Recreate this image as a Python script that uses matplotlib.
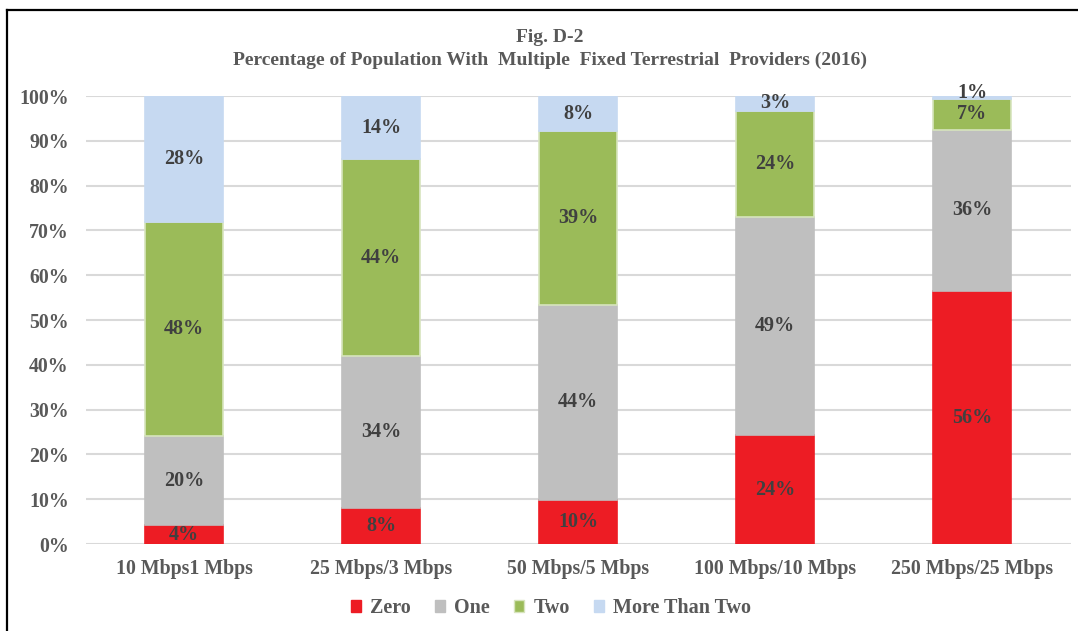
import matplotlib.pyplot as plt
from matplotlib.lines import Line2D
from matplotlib.patches import Patch
import numpy as np

plt.rcParams['font.family'] = ['Liberation Serif', 'DejaVu Serif']
plt.rcParams['font.weight'] = 'bold'

categories = ['10 Mbps1 Mbps', '25 Mbps/3 Mbps', '50 Mbps/5 Mbps',
              '100 Mbps/10 Mbps', '250 Mbps/25 Mbps']
series_names = ['Zero', 'One', 'Two', 'More Than Two']
zero = [4.2, 8.0, 9.8, 24.3, 56.4]
one = [19.9, 34.0, 43.6, 48.7, 36.1]
two = [47.8, 43.9, 38.7, 23.7, 6.9]
more = [28.1, 14.1, 7.9, 3.3, 0.6]
colors = ['#ED1C24', '#BFBFBF', '#9BBB59', '#C6D9F1']
edges = ['#ED1C24', '#BFBFBF', '#D7E4BD', '#C6D9F1']

W, H = 1078, 631
fig = plt.figure(figsize=(W / 100, H / 100), dpi=100)
ax = fig.add_axes([85.5 / W, 1 - 544 / H, 985 / W, 448 / H])

x = np.arange(len(categories))
bottom = np.zeros(len(categories))
for vals, c, ec in zip([zero, one, two, more], colors, edges):
    vals = np.array(vals)
    ax.bar(x, vals, 0.4, bottom=bottom, color=c, edgecolor=ec, linewidth=1.2, zorder=3)
    for xi, b, v in zip(x, bottom, vals):
        # tiny slices: lift the label a bit so it clears the one below
        dy = 3 if v < 1 else 0
        ax.annotate(f'{round(v):.0f}%', (xi, b + v / 2), xytext=(0, dy),
                    textcoords='offset points', ha='center', va='center',
                    fontsize=14.5, color='#404040', zorder=4)
    bottom += vals

ax.set_xlim(-0.5, len(categories) - 0.5)
ax.set_ylim(0, 100)
ax.set_yticks(np.arange(0, 101, 10))
ax.set_yticklabels([f'{t}%' for t in range(0, 101, 10)])
ax.yaxis.grid(True, color='#D9D9D9', linewidth=1.5, zorder=0)
ax.set_xticks(x)
ax.set_xticklabels(categories)
ax.tick_params(length=0, labelsize=14.3, labelcolor='#595959')
ax.tick_params(axis='x', pad=11)
ax.tick_params(axis='y', pad=12)
for s in ax.spines.values():
    s.set_visible(False)

fig.text(550 / W, 1 - 38 / H, 'Fig. D-2', ha='center', va='center',
         fontsize=14, color='#595959')
fig.text(550 / W, 1 - 60 / H,
         'Percentage of Population With  Multiple  Fixed Terrestrial  Providers (2016)',
         ha='center', va='center', fontsize=14, color='#595959')

handles = [Patch(facecolor=c, edgecolor=ec) for c, ec in zip(colors, edges)]
fig.legend(handles, series_names, loc='center', bbox_to_anchor=(551 / W, 1 - 608 / H),
           ncol=4, frameon=False, fontsize=14.5, handlelength=0.5, handleheight=0.5,
           handletextpad=0.45, columnspacing=1.2, labelcolor='#595959')

fig.add_artist(Line2D([7 / W, 1], [1 - 9.5 / H] * 2, color='black', linewidth=1.6))
fig.add_artist(Line2D([7 / W] * 2, [0, 1 - 9.5 / H], color='black', linewidth=1.6))

fig.savefig('out.png', dpi=100)
